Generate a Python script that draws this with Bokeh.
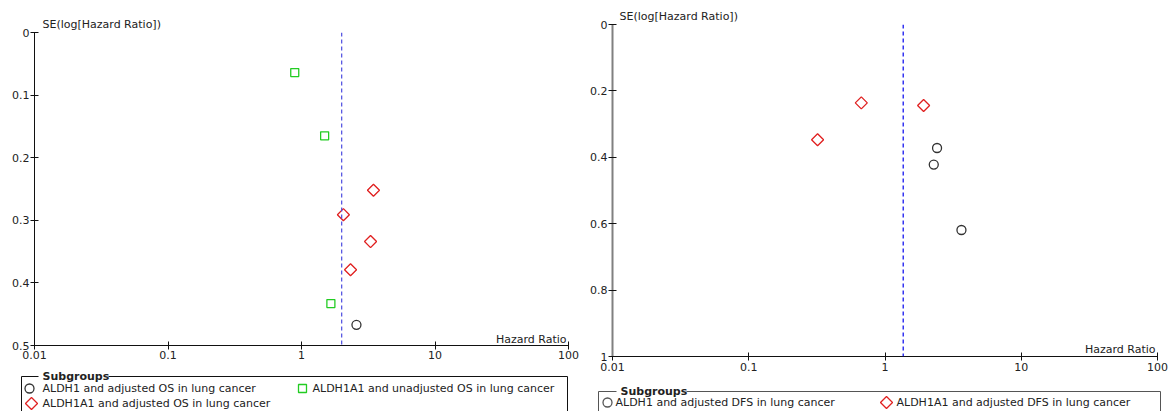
import math
from bokeh.plotting import figure
from bokeh.models import Range1d, FixedTicker, NumeralTickFormatter, Span, Label, Title
from bokeh.layouts import row, column
from bokeh.core.properties import value
from bokeh.embed import file_html
from bokeh.resources import INLINE

FONT = "DejaVu Sans"

# ---------------- data ----------------
x_ticks = [0.01, 0.1, 1, 10, 100]
left_y_ticks = [0, 0.1, 0.2, 0.3, 0.4, 0.5]
right_y_ticks = [0, 0.2, 0.4, 0.6, 0.8, 1]

# Left panel: overall survival
os_aldh1_hr = [2.58]
os_aldh1_se = [0.467]
os_a1_adj_hr = [3.46, 2.06, 3.29, 2.33]
os_a1_adj_se = [0.252, 0.291, 0.334, 0.379]
os_a1_unadj_hr = [0.89, 1.49, 1.66]
os_a1_unadj_se = [0.064, 0.165, 0.433]
os_pooled_hr = 2.0

# Right panel: disease-free survival
dfs_aldh1_hr = [2.41, 2.28, 3.64]
dfs_aldh1_se = [0.372, 0.422, 0.619]
dfs_a1_adj_hr = [0.67, 0.32, 1.92]
dfs_a1_adj_se = [0.236, 0.347, 0.244]
dfs_pooled_hr = 1.36

left_labels = ["ALDH1 and adjusted OS in lung cancer",
               "ALDH1A1 and adjusted OS in lung cancer",
               "ALDH1A1 and unadjusted OS in lung cancer"]
right_labels = ["ALDH1 and adjusted DFS in lung cancer",
                "ALDH1A1 and adjusted DFS in lung cancer"]

BLACK = "#333333"
RED = "#e02020"
GREEN = "#22cc22"


def style_axes(p, yticks, yaxis_color, yaxis_width, label_standoff_x):
    p.xaxis.ticker = FixedTicker(ticks=x_ticks)
    p.xaxis.formatter = NumeralTickFormatter(format="0.[00]")
    p.yaxis.ticker = FixedTicker(ticks=yticks)
    p.yaxis.formatter = NumeralTickFormatter(format="0.[0]")
    for ax in (p.xaxis, p.yaxis):
        ax.major_tick_in = 4
        ax.major_tick_out = 4
        ax.minor_tick_line_color = None
        ax.major_label_text_font = FONT
        ax.major_label_text_font_size = "11px"
        ax.major_label_text_color = "#222222"
        ax.major_tick_line_color = "#111111"
    p.xaxis.axis_line_color = "#111111"
    p.yaxis.axis_line_color = yaxis_color
    p.yaxis.axis_line_width = yaxis_width
    p.xaxis.major_label_standoff = label_standoff_x
    p.yaxis.major_label_standoff = 1
    p.xgrid.visible = False
    p.ygrid.visible = False


def make_panel(W, H, bl, br, bt, bb, ymax, yticks, yaxis_color, yaxis_width,
               line_color, line_width, pooled, xlab_dy, standoff, title_off):
    p = figure(width=W, height=H, x_axis_type="log",
               x_range=Range1d(0.01, 100), y_range=Range1d(ymax, 0),
               min_border_left=bl, min_border_right=br,
               min_border_top=bt, min_border_bottom=bb,
               toolbar_location=None, output_backend="svg",
               outline_line_color=None, background_fill_color="white")
    style_axes(p, yticks, yaxis_color, yaxis_width, standoff)
    p.add_layout(Span(location=pooled, dimension="height",
                      line_color=line_color, line_dash="4 3", line_width=line_width))
    p.add_layout(Title(text="SE(log[Hazard Ratio])", align="left", offset=title_off,
                       standoff=4, text_font=FONT, text_font_size="11px",
                       text_font_style="normal", text_color="#222222"), "above")
    p.add_layout(Label(x=100, y=ymax - xlab_dy, x_offset=-2, text="Hazard Ratio",
                       text_font=FONT, text_font_size="11px", text_color="#222222",
                       text_baseline="alphabetic", text_align="right"))
    return p


# ---------------- left panel ----------------
pl = make_panel(585, 365, 34, 17, 32, 20, 0.5, left_y_ticks, "#111111", 1,
                "#4a4ae0", 1.2, os_pooled_hr, 0.0096, 1, 8)
pl.scatter(os_a1_unadj_hr, os_a1_unadj_se, marker="square", size=8,
           fill_color=None, line_color=GREEN, line_width=1.3)
pl.scatter(os_a1_adj_hr, os_a1_adj_se, marker="square", angle=math.pi / 4, size=8.5,
           fill_color=None, line_color=RED, line_width=1.3)
pl.scatter(os_aldh1_hr, os_aldh1_se, marker="circle", size=9,
           fill_color=None, line_color=BLACK, line_width=1.3)

# ---------------- right panel ----------------
pr = make_panel(588, 378, 27, 16, 24, 22, 1.0, right_y_ticks, "#808080", 2,
                "#0000ee", 1.2, dfs_pooled_hr, 0.020, 2, 7)
pr.scatter(dfs_a1_adj_hr, dfs_a1_adj_se, marker="square", angle=math.pi / 4, size=8.5,
           fill_color=None, line_color=RED, line_width=1.3)
pr.scatter(dfs_aldh1_hr, dfs_aldh1_se, marker="circle", size=9,
           fill_color=None, line_color=BLACK, line_width=1.3)


# ---------------- legends ----------------
def legend_fig(W, H, bx0, bx1, by, tx0, tw, entries, border_color):
    q = figure(width=W, height=H, x_range=Range1d(0, W), y_range=Range1d(H, 0),
               min_border=0, toolbar_location=None, output_backend="svg",
               x_axis_location=None, y_axis_location=None,
               outline_line_color=None, background_fill_color="white")
    q.xgrid.visible = False
    q.ygrid.visible = False
    q.multi_line(xs=[[tx0 - 4, bx0, bx0], [tx0 + tw + 2, bx1, bx1]],
                 ys=[[by, by, H + 20], [by, by, H + 20]],
                 line_color=border_color, line_width=1)
    q.text(x=[tx0], y=[by], text=["Subgroups"], text_font=value(FONT),
           text_font_size="11px", text_font_style="bold", text_color="#222222",
           text_baseline="middle", text_align="left")
    for (mk, ang, sz, col, mx, my, lx, lab) in entries:
        q.scatter([mx], [my], marker=mk, angle=ang, size=sz, fill_color=None,
                  line_color=col, line_width=1.3)
        q.text(x=[lx], y=[my], text=[lab], text_font=value(FONT),
               text_font_size="11px", text_color="#222222",
               text_baseline="middle", text_align="left")
    return q


ll = legend_fig(585, 46, 21, 567, 11, 42, 64, [
    ("circle", 0, 9, BLACK, 29, 23, 42, left_labels[0]),
    ("square", math.pi / 4, 8.5, RED, 31, 38, 42, left_labels[1]),
    ("square", 0, 8, GREEN, 302, 23, 312, left_labels[2]),
], "#111111")

rl = legend_fig(588, 33, 13, 575, 13, 35, 64, [
    ("circle", 0, 9, "#555555", 22, 24, 30, right_labels[0]),
    ("square", math.pi / 4, 8.5, RED, 301, 24, 311, right_labels[1]),
], "#555555")

layout = row(column(pl, row(ll, spacing=0), spacing=0),
             column(pr, row(rl, spacing=0), spacing=0), spacing=0)

open("out.html", "w").write(file_html(layout, INLINE))
